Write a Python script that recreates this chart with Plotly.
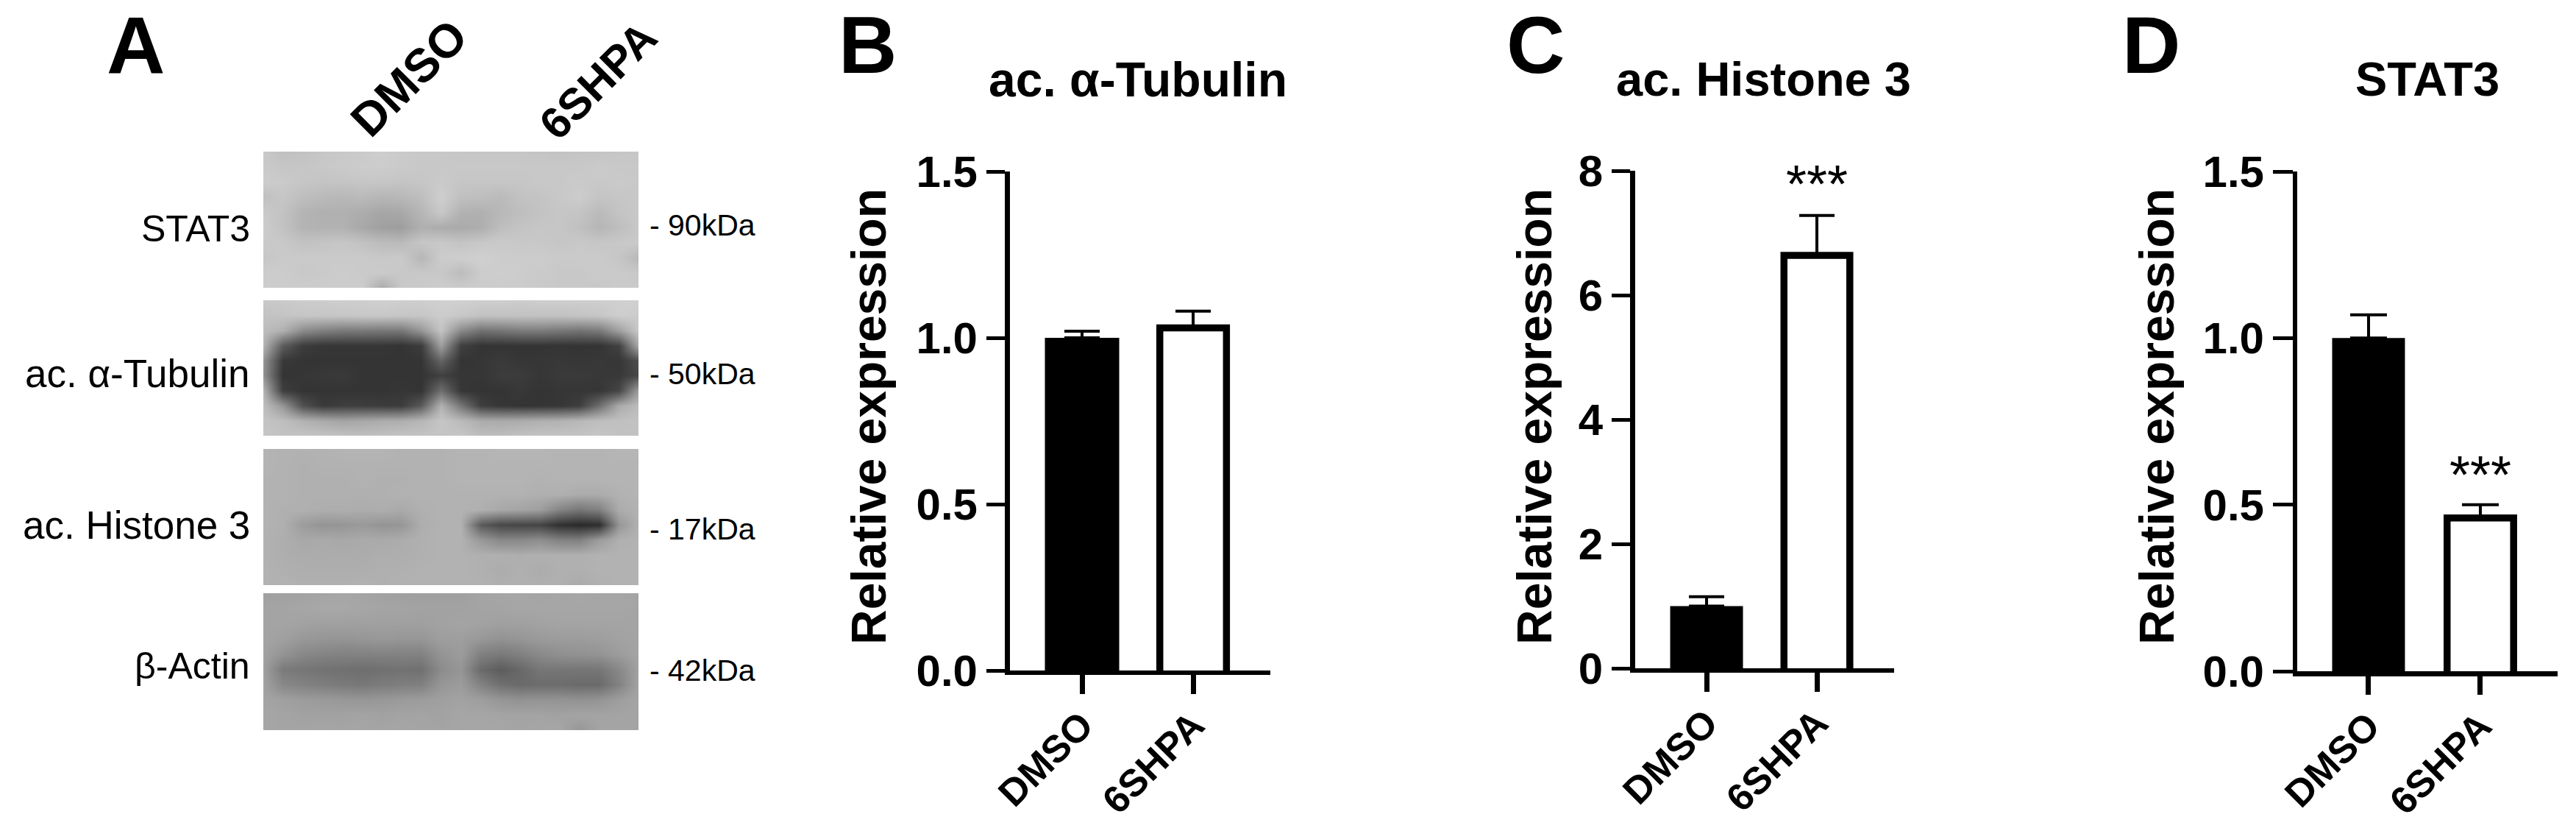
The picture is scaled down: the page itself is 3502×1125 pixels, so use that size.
import plotly.graph_objects as go

W = 3502
H = 1125
FONT = "Liberation Sans"

groups = ["DMSO", "6SHPA"]

tubulin_means = [1.0, 1.03]
tubulin_errs = [0.02, 0.05]
histone_means = [1.0, 6.64]
histone_errs = [0.15, 0.64]
stat3_means = [1.0, 0.46]
stat3_errs = [0.07, 0.04]

ticks_15 = [0, 0.5, 1.0, 1.5]
ticks_15_text = ["0.0", "0.5", "1.0", "1.5"]
ticks_8 = [0, 2, 4, 6, 8]
ticks_8_text = ["0", "2", "4", "6", "8"]

blot_names = ["STAT3", "ac. α-Tubulin", "ac. Histone 3", "β-Actin"]
blot_sizes = ["- 90kDa", "- 50kDa", "- 17kDa", "- 42kDa"]

stat3_blot = [
    [200, 192, 194, 198, 200, 202, 206, 202, 200, 200, 198, 198, 198, 198, 196, 194, 196, 196, 198, 198],
    [202, 198, 198, 200, 202, 204, 204, 202, 200, 200, 200, 200, 200, 200, 200, 200, 200, 202, 200, 200],
    [204, 202, 198, 196, 196, 198, 198, 196, 198, 202, 198, 198, 198, 198, 200, 200, 202, 200, 202, 200],
    [192, 198, 190, 186, 184, 186, 182, 184, 190, 206, 192, 190, 186, 194, 196, 200, 204, 196, 198, 200],
    [202, 194, 180, 176, 176, 172, 166, 168, 182, 200, 178, 176, 184, 190, 194, 198, 196, 186, 196, 200],
    [204, 194, 180, 178, 178, 168, 160, 158, 176, 172, 170, 174, 190, 196, 198, 198, 192, 182, 190, 200],
    [202, 200, 194, 196, 198, 194, 188, 186, 198, 200, 196, 200, 202, 200, 200, 198, 200, 198, 200, 202],
    [198, 202, 202, 202, 202, 202, 200, 202, 182, 204, 206, 208, 204, 204, 204, 202, 202, 202, 198, 184],
    [204, 204, 200, 202, 204, 202, 202, 200, 200, 200, 188, 204, 206, 204, 202, 200, 200, 202, 202, 200],
    [204, 204, 204, 204, 204, 204, 170, 200, 202, 204, 204, 204, 204, 204, 202, 200, 200, 200, 202, 202],
]
tubulin_blot = [
    [200, 202, 204, 204, 206, 206, 208, 206, 206, 208, 208, 206, 206, 204, 206, 206, 206, 206, 208, 208],
    [194, 196, 198, 198, 198, 200, 200, 198, 198, 204, 200, 194, 194, 194, 194, 194, 196, 198, 206, 204],
    [190, 176, 140, 128, 122, 122, 120, 120, 150, 196, 138, 114, 118, 124, 124, 120, 116, 122, 160, 200],
    [180, 92, 60, 54, 54, 54, 54, 52, 60, 160, 64, 52, 52, 52, 52, 52, 52, 52, 66, 170],
    [150, 56, 52, 52, 52, 52, 52, 52, 52, 100, 52, 54, 58, 54, 54, 56, 54, 56, 54, 78],
    [146, 52, 54, 56, 58, 52, 52, 52, 52, 64, 54, 54, 60, 60, 54, 58, 58, 56, 56, 72],
    [180, 62, 52, 52, 52, 52, 52, 54, 52, 110, 54, 52, 52, 56, 52, 54, 54, 54, 70, 158],
    [190, 150, 80, 58, 62, 62, 60, 60, 90, 178, 118, 62, 54, 52, 52, 54, 62, 110, 170, 188],
    [196, 190, 178, 170, 164, 168, 172, 174, 182, 198, 186, 172, 170, 172, 176, 178, 184, 190, 192, 194],
    [198, 194, 196, 196, 194, 192, 194, 196, 196, 196, 198, 190, 190, 194, 196, 196, 196, 198, 194, 194],
]
histone_blot = [
    [180, 178, 178, 178, 180, 180, 180, 178, 178, 178, 180, 180, 182, 182, 182, 180, 180, 180, 182, 182],
    [180, 178, 176, 178, 178, 178, 178, 178, 178, 178, 180, 180, 180, 180, 180, 180, 180, 180, 180, 180],
    [178, 178, 176, 176, 176, 178, 176, 176, 178, 178, 180, 180, 180, 180, 178, 180, 180, 180, 180, 180],
    [178, 178, 176, 176, 176, 176, 176, 178, 178, 178, 178, 178, 178, 178, 176, 176, 172, 172, 178, 180],
    [178, 176, 176, 174, 174, 172, 174, 170, 176, 178, 178, 176, 168, 164, 158, 132, 118, 128, 172, 178],
    [178, 176, 156, 148, 150, 154, 148, 150, 174, 178, 178, 90, 72, 70, 68, 48, 42, 46, 150, 178],
    [178, 174, 168, 170, 168, 170, 170, 172, 176, 178, 178, 152, 136, 136, 142, 130, 128, 156, 176, 178],
    [178, 174, 172, 172, 172, 172, 174, 174, 176, 178, 178, 176, 176, 174, 176, 176, 176, 178, 178, 178],
    [178, 176, 174, 174, 174, 174, 176, 176, 178, 178, 178, 176, 172, 176, 172, 176, 176, 178, 178, 178],
    [178, 178, 176, 176, 176, 178, 176, 178, 178, 178, 178, 178, 176, 176, 176, 176, 170, 176, 178, 178],
]
actin_blot = [
    [160, 162, 162, 164, 166, 164, 162, 160, 160, 160, 160, 164, 166, 166, 164, 166, 168, 166, 166, 164],
    [164, 164, 166, 168, 168, 166, 164, 164, 162, 162, 162, 164, 164, 166, 166, 166, 166, 166, 166, 164],
    [164, 164, 162, 160, 160, 160, 160, 160, 160, 162, 164, 162, 160, 160, 162, 164, 164, 164, 164, 164],
    [164, 160, 152, 150, 148, 150, 152, 150, 150, 158, 158, 152, 146, 150, 154, 156, 156, 158, 162, 164],
    [162, 148, 136, 132, 130, 130, 130, 130, 130, 148, 156, 128, 122, 128, 138, 144, 146, 148, 156, 164],
    [160, 122, 118, 114, 112, 110, 112, 114, 112, 140, 150, 106, 92, 104, 118, 118, 118, 118, 136, 162],
    [162, 136, 130, 126, 122, 120, 124, 126, 128, 150, 156, 130, 112, 106, 108, 108, 106, 106, 130, 164],
    [164, 160, 156, 154, 152, 150, 152, 154, 156, 160, 162, 158, 150, 146, 148, 148, 146, 148, 158, 164],
    [166, 164, 162, 162, 162, 164, 162, 164, 164, 162, 166, 166, 164, 164, 164, 162, 164, 164, 164, 164],
    [166, 164, 164, 166, 164, 166, 164, 166, 164, 164, 166, 166, 166, 164, 166, 166, 150, 164, 164, 164],
]


def px_x(x):
    return x / W


def px_y(y):
    return 1 - y / H


def label(text, x, y, size, bold=False, anchor="center", angle=0):
    if bold:
        text = "<b>" + text + "</b>"
    return dict(text=text, x=px_x(x), y=px_y(y), xref="paper", yref="paper", xanchor=anchor, yanchor="middle",
                showarrow=False, textangle=angle, font=dict(family=FONT, size=size, color="black"))


fig = go.Figure()
layout_axes = {}
annotations = []

# panel A
blot_boxes = [(206, 391), (408, 592), (610, 795), (806, 992)]
blots = [stat3_blot, tubulin_blot, histone_blot, actin_blot]
name_y = [311, 508, 713, 905]
name_size = [50, 53, 53, 50]
size_y = [306, 508, 719, 911]
for i, blot in enumerate(blots):
    n = i + 1
    top, bottom = blot_boxes[i]
    fig.add_trace(go.Heatmap(z=blot, zmin=0, zmax=255, zsmooth="best", showscale=False, hoverinfo="skip",
                             colorscale=[[0, "black"], [1, "white"]],
                             xaxis="x%d" % n, yaxis="y%d" % n))
    layout_axes["xaxis%d" % n] = dict(domain=[px_x(358), px_x(868)], visible=False, range=[0, 19],
                                      anchor="y%d" % n, automargin=False)
    layout_axes["yaxis%d" % n] = dict(domain=[px_y(bottom), px_y(top)], visible=False, range=[9, 0],
                                      anchor="x%d" % n, automargin=False)
    annotations.append(label(blot_names[i], 342, name_y[i], name_size[i], anchor="right"))
    annotations.append(label(blot_sizes[i], 881, size_y[i], 41, anchor="left"))

annotations.append(label("DMSO", 556, 106, 64, bold=True, angle=-45))
annotations.append(label("6SHPA", 813, 109, 60, bold=True, angle=-45))

# bar panels
panels = [
    dict(means=tubulin_means, errs=tubulin_errs, tickvals=ticks_15, ticktext=ticks_15_text, ymax=1.5,
         left=1373, right=1727, top=233, bottom=911, xr=[-0.649, 1.695], widths=[0.669, 0.6], cap=24,
         yline=7, xline=6, ylen=25, xlen=26),
    dict(means=histone_means, errs=histone_errs, tickvals=ticks_8, ticktext=ticks_8_text, ymax=8,
         left=2223, right=2575, top=232, bottom=908, xr=[-0.647, 1.7], widths=[0.66, 0.597], cap=24,
         yline=7, xline=6, ylen=25, xlen=26),
    dict(means=stat3_means, errs=stat3_errs, tickvals=ticks_15, ticktext=ticks_15_text, ymax=1.5,
         left=3123, right=3477, top=233, bottom=912, xr=[-0.638, 1.691], widths=[0.651, 0.595], cap=25,
         yline=6, xline=7, ylen=27, xlen=25),
]
for i, p in enumerate(panels):
    n = i + 5
    # bars start just under zero so the bottom edge of the outline is clipped by the axis
    pad = p["ymax"] * 0.03
    fig.add_trace(go.Bar(x=groups, y=[m + pad for m in p["means"]], base=-pad, width=p["widths"],
                         xaxis="x%d" % n, yaxis="y%d" % n, showlegend=False,
                         marker=dict(color=["black", "white"], line=dict(color="black", width=[0, 9.5])),
                         error_y=dict(type="data", symmetric=False, array=p["errs"], arrayminus=[0, 0],
                                      color="black", thickness=4, width=p["cap"])))
    layout_axes["xaxis%d" % n] = dict(
        domain=[px_x(p["left"]), px_x(p["right"])], anchor="y%d" % n, type="category", categoryorder="array",
        categoryarray=groups, range=p["xr"], showgrid=False, zeroline=False, showline=True, linecolor="black",
        linewidth=p["xline"], ticks="outside", ticklen=p["xlen"], tickwidth=7, tickcolor="black", tickangle=-45,
        ticklabelstandoff=-9, automargin=False, tickfont=dict(family=FONT, size=52, color="black", weight="bold"))
    layout_axes["yaxis%d" % n] = dict(
        domain=[px_y(p["bottom"]), px_y(p["top"])], anchor="x%d" % n, range=[0, p["ymax"]], showgrid=False,
        zeroline=False, showline=True, linecolor="black", linewidth=p["yline"], ticks="outside", ticklen=p["ylen"],
        tickwidth=5, tickcolor="black", tickvals=p["tickvals"], ticktext=p["ticktext"], automargin=False,
        tickfont=dict(family=FONT, size=60, color="black", weight="bold"))

for x in [1181, 2086, 2932]:
    annotations.append(label("Relative expression", x, 566, 66, bold=True, angle=-90))

annotations.append(label("ac. α-Tubulin", 1547, 108, 66, bold=True))
annotations.append(label("ac. Histone 3", 2397, 108, 65, bold=True))
annotations.append(label("STAT3", 3300, 108, 65, bold=True))

annotations.append(label("A", 184, 60, 110, bold=True))
annotations.append(label("B", 1179, 60, 110, bold=True))
annotations.append(label("C", 2087, 60, 110, bold=True))
annotations.append(label("D", 2924, 60, 110, bold=True))

annotations.append(label("***", 2470, 250, 72))
annotations.append(label("***", 3372, 645, 72))

fig.update_layout(width=W, height=H, margin=dict(l=0, r=0, t=0, b=0), paper_bgcolor="white", plot_bgcolor="white",
                  showlegend=False, annotations=annotations, font=dict(family=FONT), **layout_axes)

fig.write_html("out.html", config={"displayModeBar": False},
               post_script="document.body.style.margin='0';")
